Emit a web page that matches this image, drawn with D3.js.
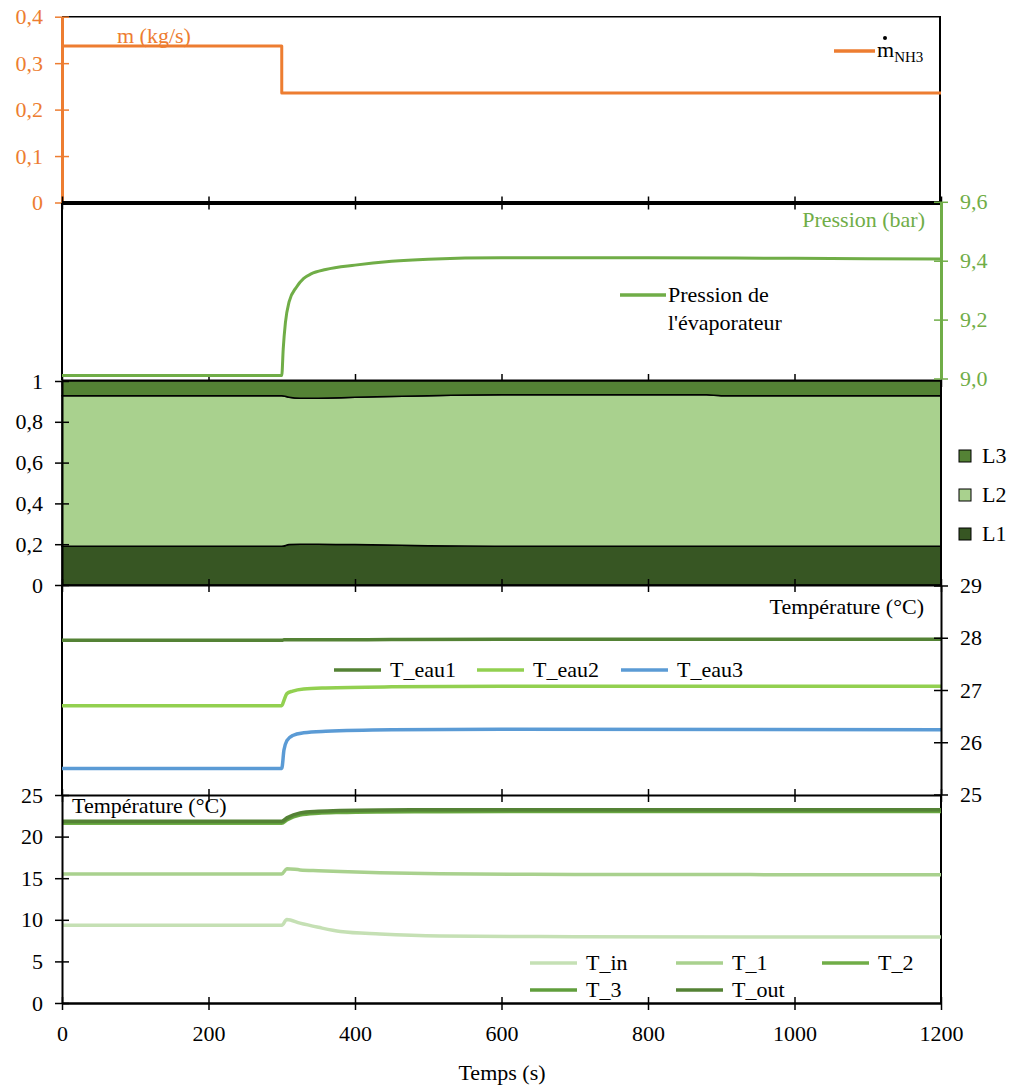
<!DOCTYPE html>
<html><head><meta charset="utf-8">
<script src="https://cdn.jsdelivr.net/npm/d3@7"></script>
<style>
html,body{margin:0;padding:0;background:#fff;}
svg text{font-family:'Liberation Serif','Times New Roman',Times,'DejaVu Serif',serif !important;}
</style></head>
<body><svg id="c" width="1010" height="1086"></svg>
<script>
// ---------- DATA ----------
const xTicks = [0,200,400,600,800,1000,1200];
const massTicks = [0,0.1,0.2,0.3,0.4];
const pressTicks = [9.0,9.2,9.4,9.6];
const fracTicks = [0,0.2,0.4,0.6,0.8,1];
const waterTicks = [25,26,27,28,29];
const tempTicks = [0,5,10,15,20,25];

const massTime = [0,300,1200];
const massNH3 = [0.337,0.236,0.236];

const pTime = [0,300,302,305,310,320,330,340,360,400,450,500,600,800,1000,1200];
const pEvap = [9.01,9.01,9.10,9.19,9.26,9.31,9.34,9.355,9.37,9.385,9.398,9.405,9.41,9.41,9.408,9.406];

const lTime = [0,300,310,325,350,400,500,600,880,900,1200];
const L1 = [0.19,0.19,0.198,0.2,0.2,0.198,0.193,0.19,0.19,0.19,0.19];
const L2 = [0.738,0.738,0.722,0.715,0.716,0.722,0.735,0.742,0.742,0.738,0.738];
const L3 = [0.072,0.072,0.08,0.085,0.084,0.08,0.072,0.068,0.068,0.072,0.072];

const wTime = [0,300,303,307,315,330,360,450,600,1200];
const Teau1 = [27.95,27.95,27.96,27.96,27.96,27.96,27.96,27.965,27.97,27.97];
const Teau2 = [26.7,26.7,26.8,26.93,26.98,27.02,27.04,27.06,27.07,27.07];
const Teau3 = [25.5,25.5,25.85,26.03,26.13,26.18,26.21,26.24,26.25,26.24];

const tTime = [0,300,307,325,350,380,434,516,700,1200];
const Tin  = [9.35,9.35,10.05,9.6,9.1,8.6,8.3,8.06,7.97,7.93];
const T1   = [15.5,15.5,16.15,16.0,15.9,15.8,15.65,15.52,15.45,15.42];
const T2   = [21.6,21.6,22.0,22.6,22.8,22.9,22.97,23.0,23.02,23.02];
const T3   = [21.72,21.72,22.12,22.72,22.92,23.02,23.08,23.1,23.12,23.12];
const Tout = [21.84,21.84,22.25,22.85,23.04,23.14,23.2,23.22,23.24,23.24];

// ---------- CHART ----------
const svg = d3.select("#c");
const FS = 22;
const FONT = "'Liberation Serif','Times New Roman',Times,'DejaVu Serif',serif";
const ORANGE="#ED7D31", PGREEN="#70AD47";
const x = d3.scaleLinear([0,1200],[62,941]);
const yM = d3.scaleLinear([0,0.4],[202.5,16.7]);
const yP = d3.scaleLinear([9.0,9.6],[378.5,201.8]);
const yL = d3.scaleLinear([0,1],[585,381]);
const yW = d3.scaleLinear([25,29],[794.5,585.5]);
const yT = d3.scaleLinear([0,25],[1003,795]);

const comma1 = d => d===0 ? "0" : d.toFixed(1).replace(".",",");
const commaL = d => (d===0||d===1) ? String(d) : d.toFixed(1).replace(".",",");

function xAxis(y, labels, w){
  const g = svg.append("g").attr("transform",`translate(0,${y})`)
    .call(d3.axisBottom(x).tickValues(xTicks).tickSize(0).tickPadding(22).tickFormat(labels? d3.format("d") : ""));
  g.attr("font-family",FONT);
  g.select(".domain").attr("stroke","#000").attr("stroke-width",w||2);
  g.selectAll(".tick line").attr("stroke","#000").attr("stroke-width",1.5).attr("y1",-6).attr("y2",7);
  g.selectAll("text").attr("font-size",FS).attr("fill","#000");
  return g;
}
function yAxis(scale, ticks, fmt, xpos, side, color, w){
  const ax = side==="left" ? d3.axisLeft(scale) : d3.axisRight(scale);
  const g = svg.append("g").attr("transform",`translate(${xpos},0)`)
    .call(ax.tickValues(ticks).tickSize(0).tickPadding(19).tickFormat(fmt));
  g.attr("font-family",FONT);
  g.select(".domain").attr("stroke",color).attr("stroke-width",w||2);
  g.selectAll(".tick line").attr("stroke",color).attr("stroke-width",1.5).attr("x1",-7).attr("x2",7);
  g.selectAll("text").attr("font-size",FS).attr("fill",color);
  return g;
}
function vline(xp,y1,y2,color,w){ svg.append("line").attr("x1",xp).attr("x2",xp).attr("y1",y1).attr("y2",y2).attr("stroke",color).attr("stroke-width",w); }
function hline(yp,x1,x2,color,w){ svg.append("line").attr("x1",x1).attr("x2",x2).attr("y1",yp).attr("y2",yp).attr("stroke",color).attr("stroke-width",w); }
function series(times, vals, ys, color, w, curve){
  svg.append("path").datum(times.map((t,i)=>[t,vals[i]]))
    .attr("fill","none").attr("stroke",color).attr("stroke-width",w||3)
    .attr("stroke-linejoin","round")
    .attr("d",d3.line().x(d=>x(d[0])).y(d=>ys(d[1])).curve(curve||d3.curveMonotoneX));
}
function text(s,xp,yp,color,anchor,size){
  return svg.append("text").attr("x",xp).attr("y",yp).attr("fill",color||"#000")
    .attr("font-family",FONT)
    .attr("font-size",size||FS).attr("text-anchor",anchor||"start").text(s);
}
function legLine(x1,yp,color,label){
  hline(yp,x1,x1+47,color,3.5);
  text(label,x1+56,yp+7,"#000");
}

// ---- Panel 1 : mass flow ----
hline(16.7,62,941,"#000",1.5);
vline(940,16.7,203,"#000",2);
series(massTime, massNH3, yM, ORANGE, 3, d3.curveStepAfter);
yAxis(yM, massTicks, comma1, 62, "left", ORANGE, 3);
xAxis(202.5,false,4);
text("m (kg/s)",117,43,ORANGE);
hline(51,834,875,ORANGE,3.5);
const mt = text("m",877,57,"#000");
mt.append("tspan").attr("font-size",15).attr("dy",5).text("NH3");
svg.append("circle").attr("cx",885).attr("cy",38).attr("r",2).attr("fill","#000");

// ---- Panel 2 : pressure ----
vline(62,203,380,"#000",2);
xAxis(380,false,2);
series(pTime, pEvap, yP, PGREEN, 3);
yAxis(yP, pressTicks, d=>d.toFixed(1).replace(".",","), 941, "right", PGREEN, 3);
text("Pression (bar)",925,227,PGREEN,"end");
hline(295,620,666,PGREEN,3.5);
text("Pression de",668,302,"#000");
text("l'évaporateur",668,330,"#000");

// ---- Panel 3 : stacked L ----
const lData = lTime.map((t,i)=>({t, L1:L1[i], L2:L2[i], L3:L3[i]}));
const stack = d3.stack().keys(["L1","L2","L3"])(lData);
const lColors = {L1:"#375623", L2:"#A9D18E", L3:"#548235"};
const area = d3.area().x(d=>x(d.data.t)).y0(d=>yL(d[0])).y1(d=>yL(d[1])).curve(d3.curveMonotoneX);
svg.append("g").selectAll("path").data(stack).join("path")
  .attr("fill",d=>lColors[d.key]).attr("stroke","#000").attr("stroke-width",1.5).attr("d",area);
vline(941,381,585,"#000",2);
yAxis(yL, fracTicks, commaL, 62, "left", "#000", 2);
[["L3",456],["L2",495],["L1",534]].forEach(([k,yy])=>{
  svg.append("rect").attr("x",959).attr("y",yy-6).attr("width",12).attr("height",12)
    .attr("fill",lColors[k]).attr("stroke","#000").attr("stroke-width",1);
  text(k,982,yy+7,"#000");
});

// ---- Panel 4 : water temperatures ----
vline(62,585,795,"#000",2);
xAxis(585,false,2);
series(wTime, Teau1, yW, "#548235", 3.5);
series(wTime, Teau2, yW, "#92D050", 3.5);
series(wTime, Teau3, yW, "#5B9BD5", 3.5);
yAxis(yW, waterTicks, d3.format("d"), 941, "right", "#000", 2);
text("Température (°C)",924,614,"#000","end");
legLine(334,670,"#548235","T_eau1");
legLine(477,670,"#92D050","T_eau2");
legLine(621,670,"#5B9BD5","T_eau3");

// ---- Panel 5 : temperatures ----
vline(941,795,1003,"#000",2);
xAxis(795,false,2);
series(tTime, Tin, yT, "#C5E0B4", 3.5);
series(tTime, T1, yT, "#A9D18E", 3.5);
series(tTime, T2, yT, "#70AD47", 3.5);
series(tTime, T3, yT, "#609E3C", 3.5);
series(tTime, Tout, yT, "#548235", 3.5);
yAxis(yT, tempTicks, d3.format("d"), 62, "left", "#000", 2);
xAxis(1003,true,2.5);
text("Température (°C)",72,813,"#000");
legLine(530,963,"#C5E0B4","T_in");
legLine(676,963,"#A9D18E","T_1");
legLine(822,963,"#70AD47","T_2");
legLine(530,990,"#609E3C","T_3");
legLine(676,990,"#548235","T_out");

text("Temps (s)",502,1080,"#000","middle");
</script></body></html>
